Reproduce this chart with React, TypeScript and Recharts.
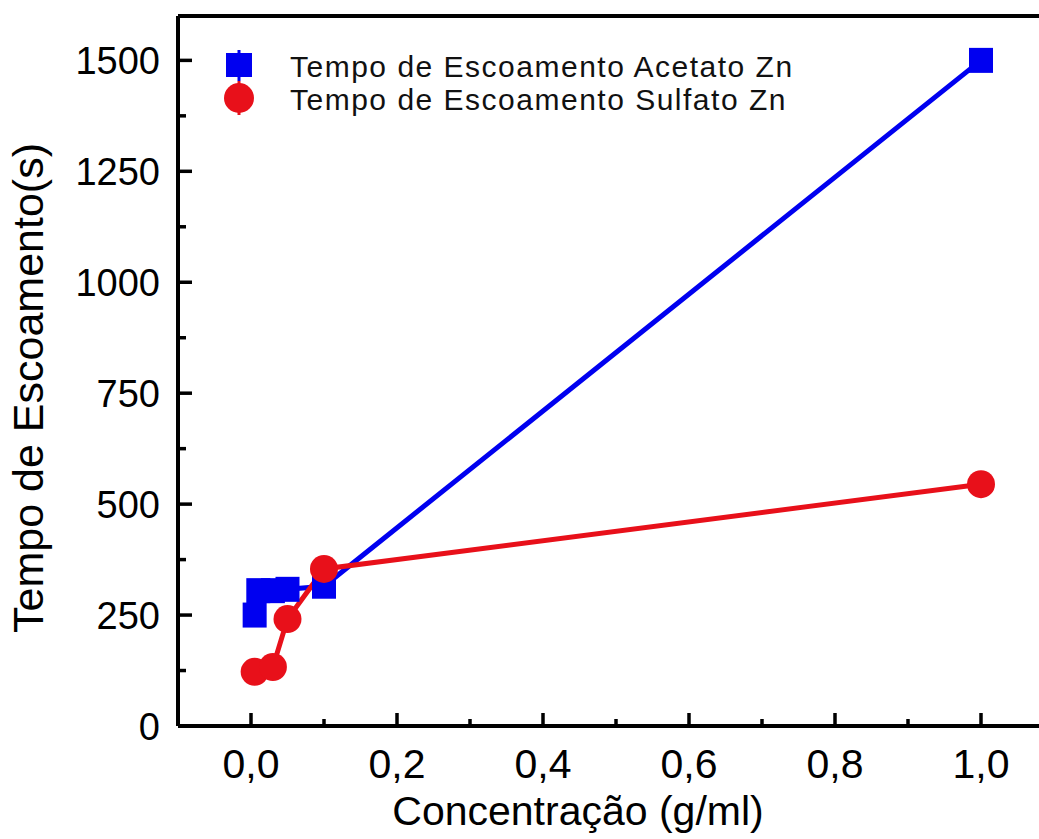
import React from "react";
import { LineChart, Line, XAxis, YAxis, Customized, ReferenceLine } from "recharts";

// concentração (g/ml) e tempo de escoamento (s)
const acetatoX = [0.005, 0.01, 0.03, 0.05, 0.1, 1.0];
const acetatoY = [250, 305, 305, 308, 315, 1500];
const sulfatoX = [0.005, 0.03, 0.05, 0.1, 1.0];
const sulfatoY = [122, 133, 241, 354, 545];

const xMajor = [0, 0.2, 0.4, 0.6, 0.8, 1.0];
const xMinor = [0.1, 0.3, 0.5, 0.7, 0.9];
const yMajor = [0, 250, 500, 750, 1000, 1250, 1500];
const yMinor = [125, 375, 625, 875, 1125, 1375];

const seriesNames = [
  "Tempo de Escoamento Acetato Zn",
  "Tempo de Escoamento Sulfato Zn",
];

const BLUE = "#0000f0";
const RED = "#e8101a";
const FONT = "'Liberation Sans', Arial, sans-serif";

const acetatoData = acetatoX.map((x, i) => ({ x, y: acetatoY[i] }));
const sulfatoData = sulfatoX.map((x, i) => ({ x, y: sulfatoY[i] }));
const xTicks = [...xMajor, ...xMinor].sort((a, b) => a - b);
const yTicks = [...yMajor, ...yMinor].sort((a, b) => a - b);

const fmt = (v: number) => v.toFixed(1).replace(".", ",");

function XTick(props: any) {
  const { x, y, payload } = props;
  const major = xMajor.includes(payload.value);
  return (
    <g>
      <line x1={x} x2={x} y1={y} y2={y - (major ? 13 : 7)} stroke="#000" strokeWidth={3.5} />
      {major && (
        <text x={x} y={y + 52} textAnchor="middle" fontSize={41} fontFamily={FONT} fill="#000">
          {fmt(payload.value)}
        </text>
      )}
    </g>
  );
}

function YTick(props: any) {
  const { x, y, payload } = props;
  const major = yMajor.includes(payload.value);
  return (
    <g>
      <line x1={x} x2={x + (major ? 14 : 8)} y1={y} y2={y} stroke="#000" strokeWidth={3.5} />
      {major && (
        <text x={x - 18} y={y} dy="0.36em" textAnchor="end" fontSize={38} fontFamily={FONT} fill="#000">
          {payload.value}
        </text>
      )}
    </g>
  );
}

const squareDot = (props: any) => (
  <rect
    key={`sq-${props.index}`}
    x={props.cx - 12}
    y={props.cy - 12.5}
    width={24}
    height={25}
    fill={BLUE}
  />
);

const circleDot = (props: any) => (
  <circle key={`ci-${props.index}`} cx={props.cx} cy={props.cy} r={14} fill={RED} />
);

function LegendBox() {
  return (
    <g>
      <line x1={239} x2={239} y1={50} y2={81} stroke={BLUE} strokeWidth={3} />
      <line x1={239} x2={239} y1={81} y2={115} stroke={RED} strokeWidth={3} />
      <rect x={226} y={53} width={26} height={24} fill={BLUE} />
      <circle cx={239} cy={98} r={15} fill={RED} />
      <text x={290} y={77} fontSize={30} letterSpacing={1.5} fontFamily={FONT} fill="#111">
        {seriesNames[0]}
      </text>
      <text x={290} y={110} fontSize={30} letterSpacing={1.5} fontFamily={FONT} fill="#111">
        {seriesNames[1]}
      </text>
    </g>
  );
}

export default function App() {
  return (
    <div
      style={{
        position: "absolute",
        left: 0,
        top: 0,
        width: 1039,
        height: 839,
        overflow: "hidden",
        background: "#fff",
      }}
    >
      <LineChart width={1060} height={839} margin={{ top: 16, right: 6, bottom: 0, left: 0 }}>
        <XAxis
          dataKey="x"
          type="number"
          domain={[-0.1, 1.1]}
          ticks={xTicks}
          interval={0}
          allowDataOverflow
          height={113}
          axisLine={{ stroke: "#000", strokeWidth: 4 }}
          tickLine={false}
          tickSize={0}
          tickMargin={0}
          tick={<XTick />}
          label={{
            content: () => (
              <text x={578} y={825} textAnchor="middle" fontSize={41} fontFamily={FONT} fill="#000">
                Concentração (g/ml)
              </text>
            ),
          }}
        />
        <YAxis
          type="number"
          domain={[0, 1600]}
          ticks={yTicks}
          interval={0}
          allowDataOverflow
          width={178}
          axisLine={{ stroke: "#000", strokeWidth: 4 }}
          tickLine={false}
          tickSize={0}
          tickMargin={0}
          tick={<YTick />}
          label={{
            content: () => (
              <text
                x={43}
                y={388}
                transform="rotate(-90 43 388)"
                textAnchor="middle"
                fontSize={43}
                fontFamily={FONT}
                fill="#000"
              >
                Tempo de Escoamento(s)
              </text>
            ),
          }}
        />
        <ReferenceLine y={1600} stroke="#000" strokeWidth={4} />
        <Line
          data={acetatoData}
          dataKey="y"
          type="linear"
          stroke={BLUE}
          strokeWidth={5}
          dot={squareDot}
          activeDot={false}
          isAnimationActive={false}
        />
        <Line
          data={sulfatoData}
          dataKey="y"
          type="linear"
          stroke={RED}
          strokeWidth={5}
          dot={circleDot}
          activeDot={false}
          isAnimationActive={false}
        />
        <Customized component={<LegendBox />} />
      </LineChart>
    </div>
  );
}
